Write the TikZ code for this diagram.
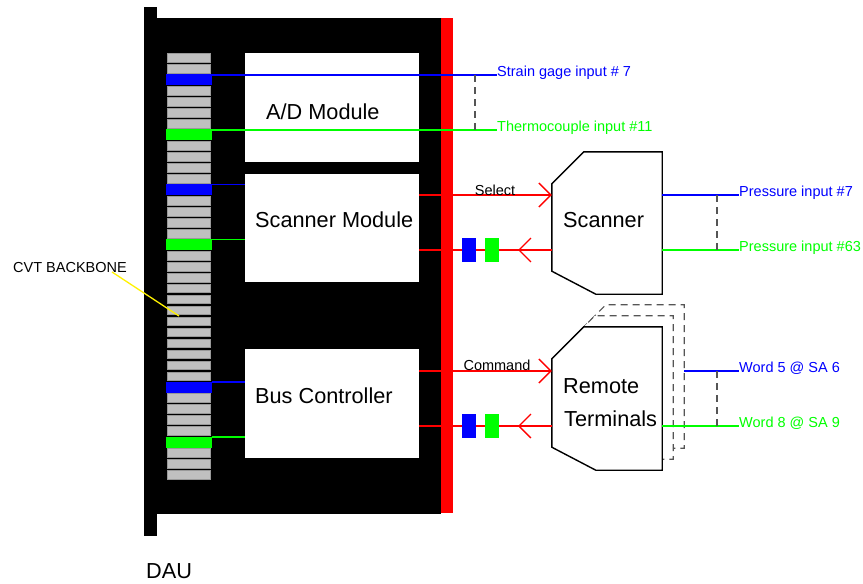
\documentclass[tikz,border=0pt]{standalone}
\usepackage{fontspec}
\setmainfont{Liberation Sans}
\usetikzlibrary{arrows.meta,calc}

\definecolor{sigblue}{RGB}{0,0,255}
\definecolor{siggreen}{RGB}{0,255,0}
\definecolor{busred}{RGB}{255,0,0}
\definecolor{slotgray}{RGB}{192,192,192}
\definecolor{tiegray}{RGB}{85,85,85}

\tikzset{
  modbox/.style={fill=white, inner sep=0pt, minimum width=174pt},
  unitframe/.style={inner sep=0pt, minimum width=110pt},
  bigtext/.style={font=\fontsize{21.7}{26}\selectfont, inner sep=0pt},
  smalltext/.style={font=\fontsize{14.5}{17}\selectfont, inner sep=0pt},
  tagslot/.style={inner sep=0pt, minimum width=46pt, minimum height=11pt},
  tagbox/.style={inner sep=0pt, minimum width=14pt, minimum height=24pt},
  wire/.style={line width=1.3pt},
  tie/.style={tiegray, line width=1.2pt, dash pattern=on 7pt off 5pt},
  unitline/.style={fill=white, draw=black, line width=1.4pt},
  ghost/.style={fill=white, draw=tiegray, line width=1.2pt, dash pattern=on 7pt off 5pt},
  selecttip/.tip={Straight Barb[length=12pt, width=24pt]}
}

% outline of a unit with its chamfered left corners, #2 = offset of a copy behind it
\newcommand{\unitpath}[2]{($(#1.north west)+(#2,32-#2)$) -- ($(#1.north west)+(32+#2,-#2)$) -- ($(#1.north east)+(#2,-#2)$) -- ($(#1.south east)+(#2,-#2)$) -- ($(#1.south west)+(44+#2,-#2)$) -- ($(#1.south west)+(#2,-23-#2)$) -- cycle}

\begin{document}
\begin{tikzpicture}[x=1pt, y=-1pt]
  \useasboundingbox (0,0) rectangle (863,584);

  % DAU chassis
  \fill[black] (144,18) rectangle (441,514);
  \fill[black] (144,7) rectangle (157,536);
  \fill[busred] (441,18) rectangle (453,513);

  % backbone slots
  \foreach \i in {0,...,38} {
    \filldraw[fill=slotgray, draw=gray!80, line width=0.4pt] (167,53.3+10.98*\i) rectangle ++(43,8.8);
  }
  \foreach \i/\c/\n in {2/sigblue/slotsg, 7/siggreen/slottc, 12/sigblue/slotscb,
                        17/siggreen/slotscg, 30/sigblue/slotbcb, 35/siggreen/slotbcg} {
    \node[tagslot, fill=\c] (\n) at (189,53.3+10.98*\i+4.5) {};
  }

  % modules
  \node[modbox, minimum height=109pt] (adm) at (332,107.5) {};
  \node[modbox, minimum height=108pt] (scm) at (332,228) {};
  \node[modbox, minimum height=109pt] (bcm) at (332,403.5) {};
  \node[bigtext, anchor=base west] (admtext) at (266,119) {A/D Module};
  \node[bigtext, anchor=base west] (scmtext) at (255,227.5) {Scanner Module};
  \node[bigtext, anchor=base west] (bcmtext) at (255,403) {Bus Controller};

  % A/D inputs
  \coordinate (sg) at (497,75);
  \coordinate (tc) at (497,130);
  \draw[wire, sigblue] (slotsg.east |- sg) -- (sg);
  \draw[wire, siggreen] (slottc.east |- tc) -- (tc);
  \draw[tie] (475,0 |- sg) -- (475,0 |- tc);
  \node[smalltext, text=sigblue, anchor=base west] (sglab) at ([yshift=-1.5pt]sg) {Strain gage input \# 7};
  \node[smalltext, text=siggreen, anchor=base west] (tclab) at ([yshift=-1.5pt]tc) {Thermocouple input \#11};

  % slot stubs
  \draw[wire, sigblue] (slotscb.east |- 0,184.5) -- (scm.west |- 0,184.5);
  \draw[wire, siggreen] (slotscg.east |- 0,239.5) -- (scm.west |- 0,239.5);
  \draw[wire, sigblue] (slotbcb.east |- 0,382) -- (bcm.west |- 0,382);
  \draw[wire, siggreen] (slotbcg.east |- 0,437) -- (bcm.west |- 0,437);

  % scanner and remote terminals
  \node[unitframe, minimum height=142pt] (scan) at (607,223) {};
  \node[unitframe, minimum height=143pt] (rt) at (607,398.5) {};
  \draw[ghost] \unitpath{rt}{22};
  \draw[ghost] \unitpath{rt}{11};
  \draw[unitline] \unitpath{rt}{0};
  \draw[unitline] \unitpath{scan}{0};
  \node[bigtext, anchor=base west] (scantext) at (563,227) {Scanner};
  \node[bigtext, anchor=base west] (rttext1) at (563,393) {Remote};
  \node[bigtext, anchor=base west] (rttext2) at (564,426) {Terminals};

  % select / command and replies
  \coordinate (scret) at (518,250);
  \coordinate (rtret) at (518,426);
  \draw[wire, busred, -selecttip] (scm.east |- 0,195) -- (scan.west |- 0,195);
  \draw[wire, busred] (scm.east |- scret) -- (scan.west |- scret);
  \draw[wire, busred, -selecttip] (scan.west |- scret) -- (scret);
  \draw[wire, busred, -selecttip] (bcm.east |- 0,371) -- (rt.west |- 0,371);
  \draw[wire, busred] (bcm.east |- rtret) -- (rt.west |- rtret);
  \draw[wire, busred, -selecttip] (rt.west |- rtret) -- (rtret);
  \node[tagbox, fill=sigblue] (scbtag) at (469,250) {};
  \node[tagbox, fill=siggreen] (scgtag) at (491.5,250) {};
  \node[tagbox, fill=sigblue] (rtbtag) at (469,425.5) {};
  \node[tagbox, fill=siggreen] (rtgtag) at (491.5,425.5) {};
  \node[smalltext] (sel) at (495,190) {Select};
  \node[smalltext] (cmd) at (497,365.5) {Command};

  % unit inputs
  \coordinate (p7) at (739,195);
  \coordinate (p63) at (739,250);
  \coordinate (w5) at (739,371);
  \coordinate (w8) at (739,426);
  \draw[wire, sigblue] (scan.east |- p7) -- (p7);
  \draw[wire, siggreen] (scan.east |- p63) -- (p63);
  \draw[tie] (717,0 |- p7) -- (717,0 |- p63);
  \draw[wire, sigblue] ($(rt.east |- w5)+(22,0)$) -- (w5);
  \draw[wire, siggreen] (rt.east |- w8) -- (w8);
  \draw[tie] (717,0 |- w5) -- (717,0 |- w8);
  \node[smalltext, text=sigblue, anchor=base west] (p7lab) at ([yshift=-1.5pt]p7) {Pressure input \#7};
  \node[smalltext, text=siggreen, anchor=base west] (p63lab) at ([yshift=-1.5pt]p63) {Pressure input \#63};
  \node[smalltext, text=sigblue, anchor=base west] (w5lab) at ([yshift=-1.5pt]w5) {Word 5 @ SA 6};
  \node[smalltext, text=siggreen, anchor=base west] (w8lab) at ([yshift=-1.5pt]w8) {Word 8 @ SA 9};

  % backbone callout
  \node[smalltext, anchor=base west] (cvt) at (13,272) {CVT BACKBONE};
  \coordinate (cvtslot) at (179,316);
  \draw[yellow, line width=1.3pt] ([xshift=-15pt]cvt.base east) -- (cvtslot);
  \node[bigtext, anchor=base west] (dau) at (146,578) {DAU};
\end{tikzpicture}
\end{document}
